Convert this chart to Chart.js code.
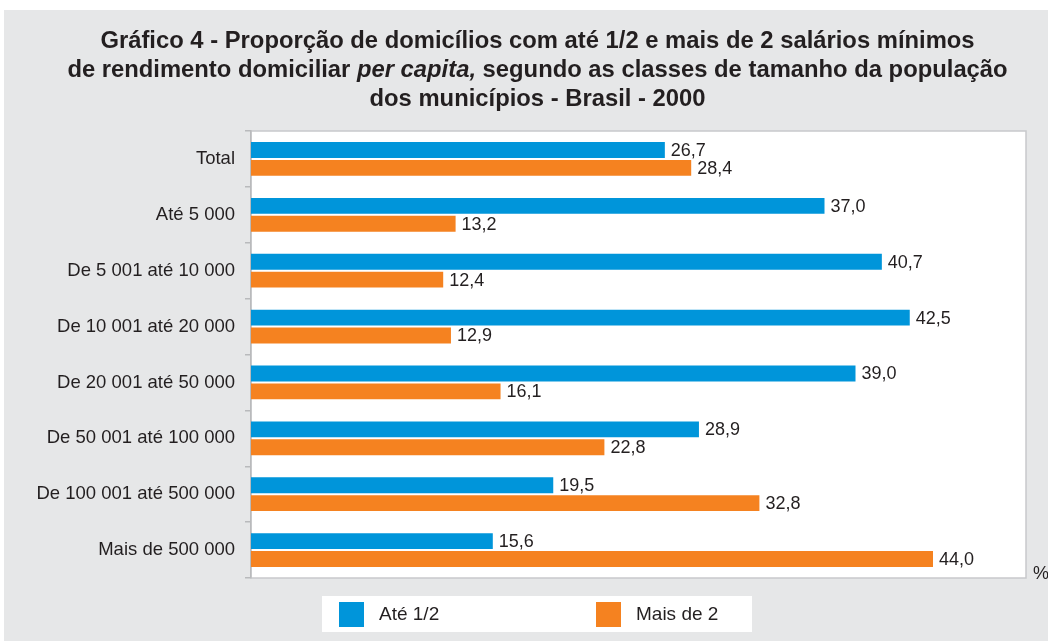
<!DOCTYPE html>
<html>
<head>
<meta charset="utf-8">
<script src="https://cdn.jsdelivr.net/npm/chart.js@4/dist/chart.umd.min.js"></script>
<style>
  html, body { margin: 0; padding: 0; background: #fff; }
  #wrap { position: relative; width: 1048px; height: 641px; overflow: hidden; }
  #chart { position: absolute; left: 0; top: 0; }
  #titulo {
    position: absolute; left: 0; top: 25px; width: 1075px;
    text-align: center; font-family: "Liberation Sans", Arial, sans-serif;
    font-weight: bold; font-size: 23.8px; line-height: 29px; color: #231f20;
  }
</style>
</head>
<body>
<div id="wrap">
  <canvas id="chart" width="1048" height="641"></canvas>
  <div id="titulo">Gráfico 4 - Proporção de domicílios com até 1/2 e mais de 2 salários mínimos<br>de rendimento domiciliar <i>per capita,</i> segundo as classes de tamanho da população<br>dos municípios - Brasil - 2000</div>
</div>
<script>
var categorias = ["Total", "Até 5 000", "De 5 001 até 10 000", "De 10 001 até 20 000",
                  "De 20 001 até 50 000", "De 50 001 até 100 000", "De 100 001 até 500 000", "Mais de 500 000"];
var ateMeio    = [26.7, 37.0, 40.7, 42.5, 39.0, 28.9, 19.5, 15.6];
var maisDeDois = [28.4, 13.2, 12.4, 12.9, 16.1, 22.8, 32.8, 44.0];
var nomesSeries = ["Até 1/2", "Mais de 2"];
var cores       = ["#0095da", "#f58220"];

var fonte = "'Liberation Sans', Arial, sans-serif";
var corTexto = "#231f20";

// fundo cinza + area do grafico branca
var fundo = {
    id: "fundo",
    beforeDraw: function(chart){
        var c = chart.ctx, a = chart.chartArea;
        c.save();
        c.fillStyle = "#e6e7e8";
        c.fillRect(4, 10, chart.width - 4, chart.height - 10);
        c.fillStyle = "#fff";
        c.fillRect(a.left, a.top, a.right - a.left, a.bottom - a.top);
        c.strokeStyle = "#c8c9cb";
        c.lineWidth = 1.5;
        c.strokeRect(a.left, a.top, a.right - a.left, a.bottom - a.top);
        c.restore();
    }
};

// valores ao lado das barras, "%" e legenda
var rotulos = {
    id: "rotulos",
    afterDraw: function(chart){
        var c = chart.ctx, a = chart.chartArea;
        c.save();
        c.font = "18px " + fonte;
        c.fillStyle = corTexto;
        c.textBaseline = "middle";
        c.textAlign = "left";
        chart.data.datasets.forEach(function(ds, i){
            chart.getDatasetMeta(i).data.forEach(function(bar, j){
                c.fillText(ds.data[j].toFixed(1).replace(".", ","), bar.x + 6, bar.y + 1);
            });
        });
        c.fillText("%", a.right + 7, a.bottom - 4);

        // legenda
        c.font = "19px " + fonte;
        c.fillStyle = "#fff";
        c.fillRect(322, 596, 430, 36);
        var xs = [339, 596];
        chart.data.datasets.forEach(function(ds, i){
            c.fillStyle = ds.backgroundColor;
            c.fillRect(xs[i], 602, 25, 25);
            c.fillStyle = corTexto;
            c.fillText(ds.label, xs[i] + 40, 615);
        });
        c.restore();
    }
};

new Chart(document.getElementById("chart"), {
    type: "bar",
    data: {
        labels: categorias,
        datasets: [
            { label: nomesSeries[0], data: ateMeio, backgroundColor: cores[0] },
            { label: nomesSeries[1], data: maisDeDois, backgroundColor: cores[1] }
        ]
    },
    options: {
        indexAxis: "y",
        responsive: false,
        animation: false,
        categoryPercentage: 0.64,
        barPercentage: 0.89,
        layout: { padding: { top: 131, right: 22, bottom: 63, left: 0 } },
        plugins: {
            legend: { display: false },
            title: { display: false },
            tooltip: { enabled: false }
        },
        scales: {
            x: {
                display: false,
                min: 0,
                max: 50
            },
            y: {
                afterFit: function(scale){ scale.width = 251; },
                grid: { drawOnChartArea: false, tickLength: 6, color: "#b9babc", lineWidth: 1.5 },
                border: { color: "#b9babc", width: 1.5 },
                ticks: { color: corTexto, font: { size: 18.5, family: fonte }, padding: 10 }
            }
        }
    },
    plugins: [fundo, rotulos]
});
</script>
</body>
</html>
